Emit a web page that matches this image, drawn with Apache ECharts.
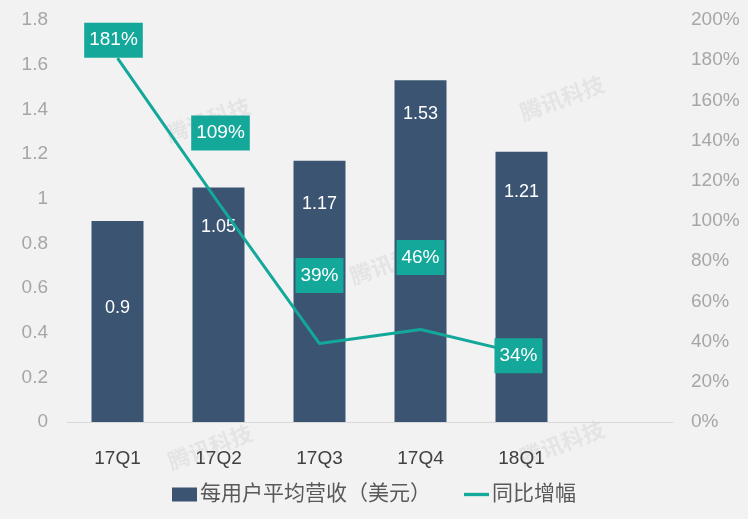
<!DOCTYPE html>
<html><head><meta charset="utf-8">
<script src="https://cdn.jsdelivr.net/npm/echarts@6/dist/echarts.min.js"></script>
<style>html,body{margin:0;padding:0;background:#F2F2F2;}#c{width:748px;height:519px;}</style>
</head><body><div id="c"></div>
<script>
const categories = ['17Q1','17Q2','17Q3','17Q4','18Q1',''];
const arpu = [0.9, 1.05, 1.17, 1.53, 1.21];
const growth = [181, 109, 39, 46, 34];
const watermarkText = '腾讯科技';

const barLabelStyles = [
  {position:'inside', offset:[0,-13]},
  {position:'insideTop', distance:31},
  {position:'insideTop', distance:34},
  {position:'insideTop', distance:25},
  {position:'insideTop', distance:31}
];
const lineLabelOffsets = [[-4,-18],[2,-70],[0,-68],[0,-72],[-3,2]];
const watermarkSpots = [[208,120],[392,262],[562,98],[210,447],[562,443]];

const chart = echarts.init(document.getElementById('c'));
const font = 'Arial, "Liberation Sans", "Noto Sans CJK SC", sans-serif';
chart.setOption({
  backgroundColor:'#F2F2F2',
  textStyle:{fontFamily:font},
  graphic: watermarkSpots.map(p=>({
    type:'text', x:p[0], y:p[1], rotation:0.35, z:-1, silent:true,
    style:{text:watermarkText, fill:'#E4E4E4', font:'bold 22px "Noto Sans CJK SC", sans-serif',
      textAlign:'center', textVerticalAlign:'middle'}
  })),
  grid:{left:67,right:75,top:20,bottom:97},
  legend:{
    bottom:9, left:'center', itemGap:33, itemWidth:25, itemHeight:14,
    textStyle:{fontSize:21,color:'#595959',fontFamily:font,padding:[0,0,0,-2]},
    data:[{name:'每用户平均营收（美元）',icon:'rect'},{name:'同比增幅',icon:'path://M0,0 H30 V4 H0 Z'}]
  },
  xAxis:{
    type:'category', data:categories,
    axisLine:{lineStyle:{color:'#D9D9D9',width:1}},
    axisTick:{show:false},
    axisLabel:{fontSize:19,color:'#404040',margin:27}
  },
  yAxis:[
    {type:'value',min:0,max:1.8,interval:0.2,splitLine:{show:false},
     axisLine:{show:false},axisTick:{show:false},
     axisLabel:{fontSize:19,color:'#A6A6A6',margin:19,formatter:v=>String(Math.round(v*10)/10)}},
    {type:'value',min:0,max:200,interval:20,splitLine:{show:false},
     axisLine:{show:false},axisTick:{show:false},
     axisLabel:{fontSize:19,color:'#A6A6A6',margin:18,formatter:'{value}%'}}
  ],
  series:[
    {name:'每用户平均营收（美元）',type:'bar',barWidth:52,
     itemStyle:{color:'#3A5472'},
     data:arpu.map((v,i)=>({value:v,label:Object.assign({show:true,color:'#FFFFFF',fontSize:18},barLabelStyles[i])}))},
    {name:'同比增幅',type:'line',yAxisIndex:1,symbol:'circle',symbolSize:0.1,showSymbol:true,
     lineStyle:{color:'#14A89A',width:3},itemStyle:{color:'#14A89A'},
     data:growth.map((v,i)=>({value:v,label:{show:true,position:'inside',offset:lineLabelOffsets[i],
       formatter:'{c}%',color:'#FFFFFF',fontSize:19,backgroundColor:'#14A89A',padding:[8,5,8,5]}})),
     z:5}
  ]
});
</script></body></html>
